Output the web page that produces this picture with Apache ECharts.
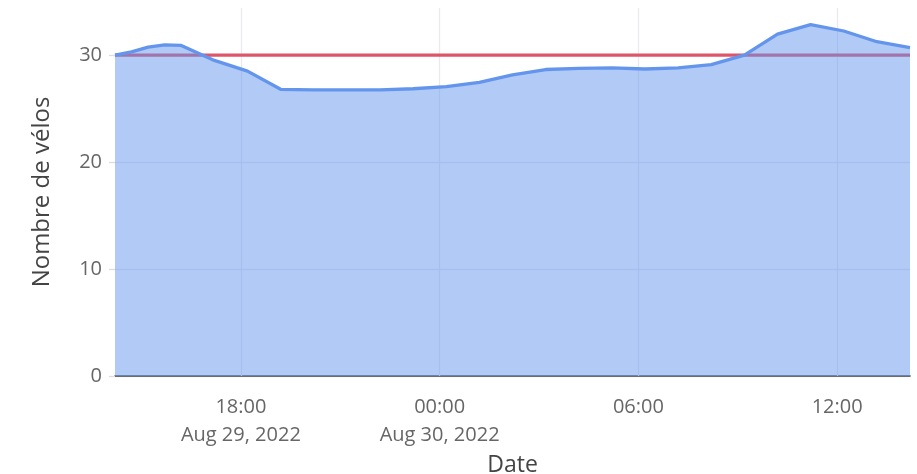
<!DOCTYPE html>
<html>
<head>
<meta charset="utf-8">
<script src="https://cdn.jsdelivr.net/npm/echarts@6/dist/echarts.min.js"></script>
<style>
  html, body { margin: 0; padding: 0; background: #fff; }
  #chart { width: 917px; height: 474px; }
</style>
</head>
<body>
<div id="chart"></div>
<script>
// Horodatages des relevés (heure locale)
const times = [
  '2022-08-29T14:12:00', '2022-08-29T14:42:00', '2022-08-29T15:12:00', '2022-08-29T15:42:00',
  '2022-08-29T16:12:00', '2022-08-29T17:12:00', '2022-08-29T18:12:00', '2022-08-29T19:12:00',
  '2022-08-29T20:12:00', '2022-08-29T21:12:00', '2022-08-29T22:12:00', '2022-08-29T23:12:00',
  '2022-08-30T00:12:00', '2022-08-30T01:12:00', '2022-08-30T02:12:00', '2022-08-30T03:12:00',
  '2022-08-30T04:12:00', '2022-08-30T05:12:00', '2022-08-30T06:12:00', '2022-08-30T07:12:00',
  '2022-08-30T08:12:00', '2022-08-30T09:12:00', '2022-08-30T10:12:00', '2022-08-30T11:12:00',
  '2022-08-30T12:12:00', '2022-08-30T13:12:00', '2022-08-30T14:12:00'
];

// Nombre de vélos disponibles à chaque relevé
const bikes = [
  30.0, 30.3, 30.75, 30.95,
  30.9, 29.5, 28.5, 26.8,
  26.75, 26.75, 26.75, 26.85,
  27.05, 27.45, 28.15, 28.65,
  28.75, 28.8, 28.7, 28.8,
  29.1, 30.0, 31.95, 32.85,
  32.25, 31.25, 30.7
];

// Seuil de référence
const threshold = 30;

// Graduations des axes
const xTickTimes = ['2022-08-29T18:00:00', '2022-08-30T00:00:00', '2022-08-30T06:00:00', '2022-08-30T12:00:00'];
const yTicks = [0, 10, 20, 30];

const monthNames = ['Jan', 'Feb', 'Mar', 'Apr', 'May', 'Jun', 'Jul', 'Aug', 'Sep', 'Oct', 'Nov', 'Dec'];

const ts = times.map(t => new Date(t).getTime());
const xTicks = xTickTimes.map(t => new Date(t).getTime());
const seriesData = ts.map((t, i) => [t, bikes[i]]);
const tMin = ts[0];
const tMax = ts[ts.length - 1];

function pad(n) { return (n < 10 ? '0' : '') + n; }

// Heure seule, avec la date sous la première graduation et à chaque minuit
function formatTime(value) {
  const d = new Date(value);
  const hm = pad(d.getHours()) + ':' + pad(d.getMinutes());
  const dateStr = monthNames[d.getMonth()] + ' ' + d.getDate() + ', ' + d.getFullYear();
  if (value === xTicks[0] || d.getHours() === 0) {
    return hm + '\n' + dateStr;
  }
  return hm;
}

const chart = echarts.init(document.getElementById('chart'), null, { renderer: 'canvas' });

chart.setOption({
  animation: false,
  backgroundColor: '#ffffff',
  textStyle: { fontFamily: '"Open Sans", sans-serif' },
  grid: { left: 115, right: 7, top: 8, bottom: 98, outerBoundsMode: 'none', containLabel: false },
  xAxis: {
    type: 'value',
    min: tMin,
    max: tMax,
    name: 'Date',
    nameLocation: 'middle',
    nameGap: 78,
    nameTextStyle: { fontSize: 23, color: '#444', fontFamily: '"Open Sans", sans-serif' },
    axisLine: { show: true, onZero: false, lineStyle: { color: '#444', width: 1.6 } },
    axisTick: { show: false, customValues: xTicks },
    axisLabel: {
      customValues: xTicks,
      formatter: formatTime,
      fontSize: 20,
      lineHeight: 28,
      color: '#666',
      margin: 17
    },
    splitLine: { show: false }
  },
  yAxis: {
    type: 'value',
    min: 0,
    max: 34.4,
    interval: 10,
    name: 'Nombre de vélos',
    nameLocation: 'middle',
    nameGap: 61,
    nameTextStyle: { fontSize: 24, color: '#444', fontFamily: '"Open Sans", sans-serif' },
    axisLine: { show: false },
    axisTick: { show: true, length: 6, customValues: yTicks, lineStyle: { color: '#ddd', width: 1.3 } },
    axisLabel: {
      customValues: yTicks,
      fontSize: 20,
      color: '#666',
      margin: 13
    },
    splitLine: { show: true, showMaxLine: false, lineStyle: { color: '#e9e9ee', width: 1.3 } }
  },
  series: [
    {
      // lignes verticales de la grille aux graduations horaires, sous la surface
      name: 'Grille',
      type: 'line',
      z: 1,
      data: [],
      silent: true,
      markLine: {
        z: 1,
        silent: true,
        symbol: 'none',
        label: { show: false },
        lineStyle: { color: '#e9e9ee', width: 1.3, type: 'solid' },
        data: xTicks.map(t => ({ xAxis: t }))
      }
    },
    {
      name: 'Seuil',
      type: 'line',
      z: 2,
      showSymbol: false,
      data: [[tMin, threshold], [tMax, threshold]],
      lineStyle: { color: 'rgb(222,85,105)', width: 3.3 },
      silent: true
    },
    {
      name: 'Vélos',
      type: 'line',
      z: 3,
      showSymbol: false,
      data: seriesData,
      lineStyle: { color: '#6495ED', width: 3.3 },
      areaStyle: { color: '#6495ED', opacity: 0.5, origin: 'start' },
      silent: true
    }
  ]
});
</script>
</body>
</html>
